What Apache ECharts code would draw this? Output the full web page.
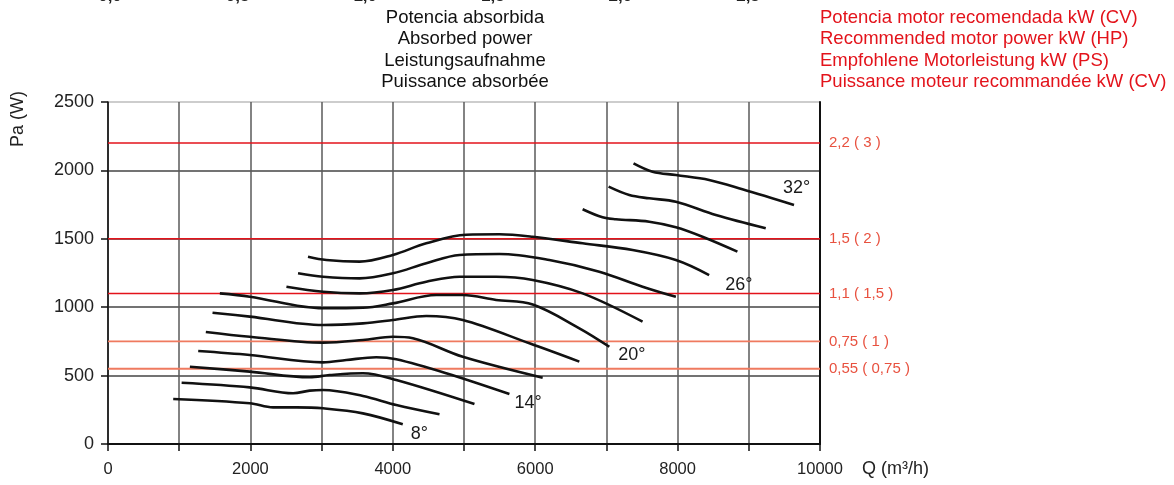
<!DOCTYPE html>
<html>
<head>
<meta charset="utf-8">
<script src="https://cdn.jsdelivr.net/npm/echarts@6/dist/echarts.min.js"></script>
<style>
  html, body { margin: 0; padding: 0; background: #ffffff; }
  #chart { width: 1174px; height: 485px; }
</style>
</head>
<body>
<div id="chart"></div>
<script>
// Fan curves: air flow Q (m3/h) vs absorbed power Pa (W) for each blade angle
const curve8  = [[916,329],[1992,298],[2318,268],[2650,268],[3020,261],[3580,224],[4140,144]];
const curve10 = [[1034,448],[1992,414],[2599,371],[2833,390],[3020,395],[3581,351],[4049,285],[4656,217]];
const curve12 = [[1150,565],[1992,529],[2833,488],[3113,504],[3581,517],[4049,468],[5147,292]];
const curve14 = [[1267,680],[1992,651],[3020,597],[3347,614],[3768,634],[4049,619],[4750,517],[5638,365]];
const curve16 = [[1374,819],[1992,784],[3020,741],[3581,760],[4001,784],[4282,773],[4983,638],[6105,485]];
const curve18 = [[1468,960],[1992,931],[3020,870],[3581,882],[4001,906],[4470,936],[4983,906],[5919,736],[6620,602]];
const curve20 = [[1571,1101],[1992,1077],[3020,992],[3581,996],[4001,1028],[4610,1089],[4983,1089],[5451,1053],[5965,1020],[6620,846],[7041,711]];
const curve22 = [[2506,1150],[3020,1113],[3534,1101],[4001,1126],[4470,1186],[4937,1223],[5451,1223],[5965,1199],[6666,1101],[7508,894]];
const curve24 = [[2669,1248],[3020,1223],[3534,1211],[4001,1248],[4470,1321],[4937,1382],[5498,1389],[6199,1345],[6900,1260],[7508,1150],[7976,1077]];
const curve26 = [[2809,1369],[3067,1345],[3534,1333],[4001,1382],[4470,1467],[5031,1530],[5498,1533],[5965,1515],[6666,1467],[7368,1418],[7976,1345],[8443,1235]];
const curve28 = [[6666,1716],[6946,1657],[7134,1643],[7602,1625],[7976,1584],[8349,1515],[8840,1406]];
const curve30 = [[7031,1881],[7321,1820],[7602,1796],[7976,1771],[8537,1674],[9238,1577]];
const curve32 = [[7381,2052],[7648,1991],[7976,1966],[8443,1930],[8910,1862],[9635,1747]];

const bladeCurves = [curve8, curve10, curve12, curve14, curve16, curve18, curve20, curve22, curve24, curve26, curve28, curve30, curve32];
const bladeAngles = ['8°', '10°', '12°', '14°', '16°', '18°', '20°', '22°', '24°', '26°', '28°', '30°', '32°'];
const labelledAngles = ['8°', '14°', '20°', '26°', '32°'];

// Recommended motor power thresholds (W) and their labels kW (HP)
const motorPowerW = [2200, 1500, 1100, 750, 550];
const motorLabels = ['2,2 ( 3 )', '1,5 ( 2 )', '1,1 ( 1,5 )', '0,75 ( 1 )', '0,55 ( 0,75 )'];

// Axis ranges and ticks
const flowMin = 0, flowMax = 10000, flowStep = 1000;
const powerMin = 0, powerMax = 2500, powerStep = 500;
const absorbedKwTicks = ['0,0', '0,5', '1,0', '1,5', '2,0', '2,5'];

const titleLines = ['Potencia absorbida', 'Absorbed power', 'Leistungsaufnahme', 'Puissance absorbée'];
const motorTitleLines = ['Potencia motor recomendada kW (CV)', 'Recommended motor power kW (HP)', 'Empfohlene Motorleistung kW (PS)', 'Puissance moteur recommandée kW (CV)'];

const FONT = 'Liberation Sans, Arial, Helvetica, sans-serif';
const RED_STRONG = '#e3131b';
const RED_SOFT = '#ef7a5f';
const LABEL_RED = '#e8513f';

const endLabelOffsets = {
  '8°': [8, 10], '14°': [5, 9], '20°': [9, 8], '26°': [16, 10], '32°': [-11, -17]
};

const chart = echarts.init(document.getElementById('chart'), null, { renderer: 'canvas' });

const series = [];

// Motor power reference lines across the whole flow range
motorPowerW.forEach((w, i) => {
  const strong = i < 3;
  series.push({
    type: 'line',
    name: motorLabels[i],
    data: [[flowMin, w], [flowMax, w]],
    symbol: 'none',
    silent: true,
    z: 3,
    lineStyle: { color: strong ? RED_STRONG : RED_SOFT, width: strong ? 1.6 : 1.8 },
    endLabel: {
      show: true,
      formatter: motorLabels[i],
      color: LABEL_RED,
      fontFamily: FONT,
      fontSize: 15,
      distance: 9
    }
  });
});

// Blade angle curves
bladeCurves.forEach((pts, i) => {
  const ang = bladeAngles[i];
  const s = {
    type: 'line',
    name: ang,
    data: pts,
    smooth: 0.35,
    symbol: 'none',
    silent: true,
    z: 5,
    lineStyle: { color: '#111111', width: 2.6 }
  };
  if (labelledAngles.includes(ang)) {
    s.endLabel = {
      show: true,
      formatter: ang,
      color: '#1a1a1a',
      fontFamily: FONT,
      fontSize: 18,
      distance: 0,
      offset: endLabelOffsets[ang]
    };
  }
  series.push(s);
});

const graphics = [];
titleLines.forEach((t, i) => {
  graphics.push({
    type: 'text', x: 465, y: 18 + i * 21.3,
    style: { text: t, fill: '#111111', font: '18.5px ' + FONT, textAlign: 'center', textVerticalAlign: 'middle' }
  });
});
motorTitleLines.forEach((t, i) => {
  graphics.push({
    type: 'text', x: 820, y: 18 + i * 21.3,
    style: { text: t, fill: RED_STRONG, font: '18.5px ' + FONT, textAlign: 'left', textVerticalAlign: 'middle' }
  });
});
// Absorbed power scale, partly outside the top edge
const kwX0 = 110, kwStep = 127.6;
absorbedKwTicks.forEach((t, i) => {
  graphics.push({
    type: 'text', x: kwX0 + i * kwStep, y: -4,
    style: { text: t, fill: '#222222', font: 'bold 17px ' + FONT, textAlign: 'center', textVerticalAlign: 'middle' }
  });
});
graphics.push({
  type: 'text', x: 18, y: 119, rotation: Math.PI / 2,
  style: { text: 'Pa (W)', fill: '#222222', font: '18px ' + FONT, textAlign: 'center', textVerticalAlign: 'middle' }
});
graphics.push({
  type: 'text', x: 862, y: 469,
  style: { text: 'Q (m³/h)', fill: '#222222', font: '18px ' + FONT, textAlign: 'left', textVerticalAlign: 'middle' }
});

chart.setOption({
  animation: false,
  backgroundColor: '#ffffff',
  grid: { left: 108, right: 354, top: 102, bottom: 41, containLabel: false },
  xAxis: {
    type: 'value',
    min: flowMin, max: flowMax, interval: flowStep,
    axisLine: { show: true, onZero: false, lineStyle: { color: '#111111', width: 2 } },
    axisTick: { show: true, inside: false, length: 7, lineStyle: { color: '#111111', width: 1.5 } },
    axisLabel: {
      color: '#222222', fontSize: 16.5, fontFamily: FONT, margin: 17,
      formatter: v => (v % 2000 === 0 ? String(v) : '')
    },
    splitLine: { show: true, lineStyle: { color: '#5a5a5a', width: 1.5 } }
  },
  yAxis: [
    {
      type: 'value',
      min: powerMin, max: powerMax, interval: powerStep,
      axisLine: { show: true, lineStyle: { color: '#111111', width: 1.5 } },
      axisTick: { show: true, inside: false, length: 7, lineStyle: { color: '#111111', width: 1.5 } },
      axisLabel: { color: '#222222', fontSize: 18, fontFamily: FONT, margin: 14, formatter: v => String(v) },
      splitLine: { show: true, lineStyle: { color: ['#444444', '#444444', '#444444', '#444444', '#444444', '#bdbdbd'], width: 1.5 } }
    },
    {
      type: 'value', position: 'right',
      min: powerMin, max: powerMax, interval: powerStep,
      axisLine: { show: true, lineStyle: { color: '#111111', width: 2 } },
      axisTick: { show: false }, axisLabel: { show: false }, splitLine: { show: false }
    }
  ],
  graphic: graphics,
  series: series
});
</script>
</body>
</html>
